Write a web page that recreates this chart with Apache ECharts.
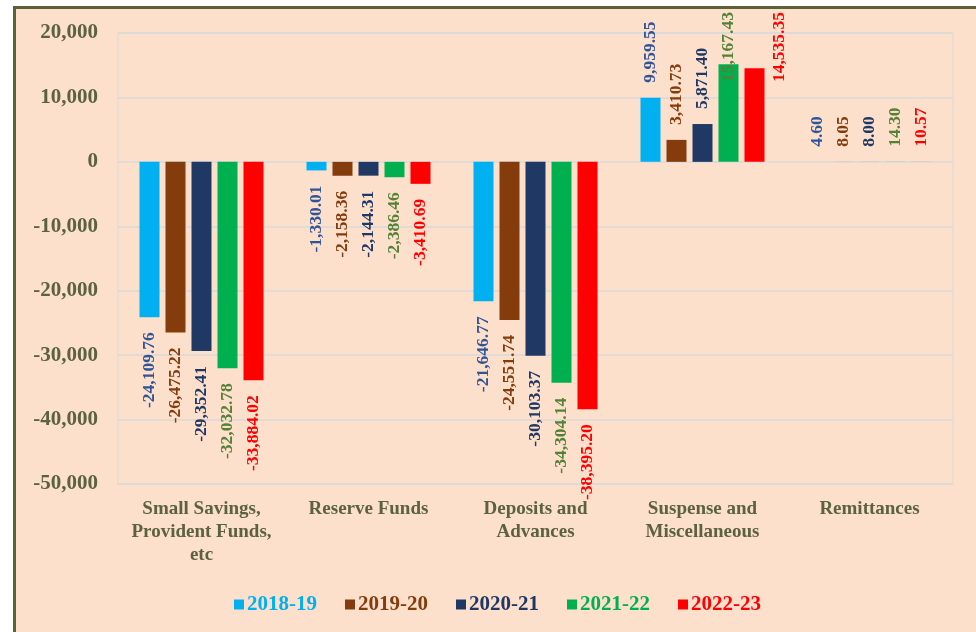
<html>
<head>
<meta charset="utf-8">
<script src="https://cdn.jsdelivr.net/npm/echarts@6/dist/echarts.min.js"></script>
<style>
  html, body { margin: 0; width: 976px; height: 632px; background: #fff; overflow: hidden; }
  #frame { position: absolute; left: 13px; top: 6px; width: 990px; height: 650px;
           border-left: 3px solid #5b6239; border-top: 3px solid #5b6239; background: #fde0cc; box-sizing: border-box; }
  #main { position: absolute; left: 0; top: 0; width: 976px; height: 632px; }
</style>
</head>
<body>
<div id="frame"></div>
<div id="main"></div>
<script>
// categories and series
var categories = ['Small Savings,\nProvident Funds,\netc', 'Reserve Funds', 'Deposits and\nAdvances', 'Suspense and\nMiscellaneous', 'Remittances'];
var years = ['2018-19', '2019-20', '2020-21', '2021-22', '2022-23'];
var v2018 = [-24109.76, -1330.01, -21646.77, 9959.55, 4.60];
var v2019 = [-26475.22, -2158.36, -24551.74, 3410.73, 8.05];
var v2020 = [-29352.41, -2144.31, -30103.37, 5871.40, 8.00];
var v2021 = [-32032.78, -2386.46, -34304.14, 15167.43, 14.30];
var v2022 = [-33884.02, -3410.69, -38395.20, 14535.35, 10.57];
var allValues = [v2018, v2019, v2020, v2021, v2022];

var barColors = ['#00b0f0', '#843c0c', '#1f3864', '#00b050', '#ff0000'];
var labelColors = ['#2f5597', '#843c0c', '#1f3864', '#548235', '#ff0000'];
var axisColor = '#5b6240';
var font = '"Liberation Serif", "Times New Roman", serif';

function fmt(v) {
    return v.toLocaleString('en-US', { minimumFractionDigits: 2, maximumFractionDigits: 2 });
}

var series = years.map(function (y, i) {
    return {
        name: y,
        type: 'bar',
        barWidth: 20,
        barGap: '30%',
        itemStyle: { color: barColors[i] },
        label: {
            show: true,
            rotate: 90,
            distance: 15,
            verticalAlign: 'middle',
            color: labelColors[i],
            fontFamily: font,
            fontWeight: 'bold',
            fontSize: 17.5,
            formatter: function (p) { return fmt(p.value); }
        },
        labelLayout: function (p) {
            // keep labels inside the chart box, like the original;
            // the last one is pushed to the right so it doesn't sit on its bar
            var r = p.labelRect;
            if (r.y < 12) {
                return {
                    y: 12 + r.height,
                    x: r.x + r.width / 2 + (p.seriesIndex === years.length - 1 ? 25 : 0)
                };
            }
        },
        data: allValues[i].map(function (v) {
            return {
                value: v,
                label: v < 0 ? { position: 'bottom', align: 'right' } : { position: 'top', align: 'left' }
            };
        })
    };
});

var chart = echarts.init(document.getElementById('main'));
chart.setOption({
    backgroundColor: 'transparent',
    animation: false,
    grid: { left: 118, right: 23, top: 33, bottom: 148, show: true, borderColor: '#d9d9d9', borderWidth: 1 },
    legend: {
        left: 229,
        top: 589,
        itemWidth: 10,
        itemHeight: 10,
        itemGap: 28,
        icon: 'rect',
        textStyle: { fontFamily: font, fontWeight: 'bold', fontSize: 21, padding: [0, 0, 0, -2] },
        data: years.map(function (y, i) {
            return { name: y, textStyle: { color: barColors[i] } };
        })
    },
    xAxis: {
        type: 'category',
        data: categories,
        axisLine: { show: false, onZero: false },
        axisTick: { show: false },
        axisLabel: {
            margin: 14,
            interval: 0,
            color: axisColor,
            fontFamily: font,
            fontWeight: 'bold',
            fontSize: 19,
            lineHeight: 23
        }
    },
    yAxis: {
        type: 'value',
        min: -50000,
        max: 20000,
        interval: 10000,
        axisLine: { show: false },
        axisTick: { show: false },
        splitLine: { lineStyle: { color: '#d9d9d9', width: 1.5 } },
        axisLabel: {
            margin: 20,
            color: axisColor,
            fontFamily: font,
            fontWeight: 'bold',
            fontSize: 21,
            formatter: function (v) { return v.toLocaleString('en-US'); }
        }
    },
    series: series
});
</script>
</body>
</html>
